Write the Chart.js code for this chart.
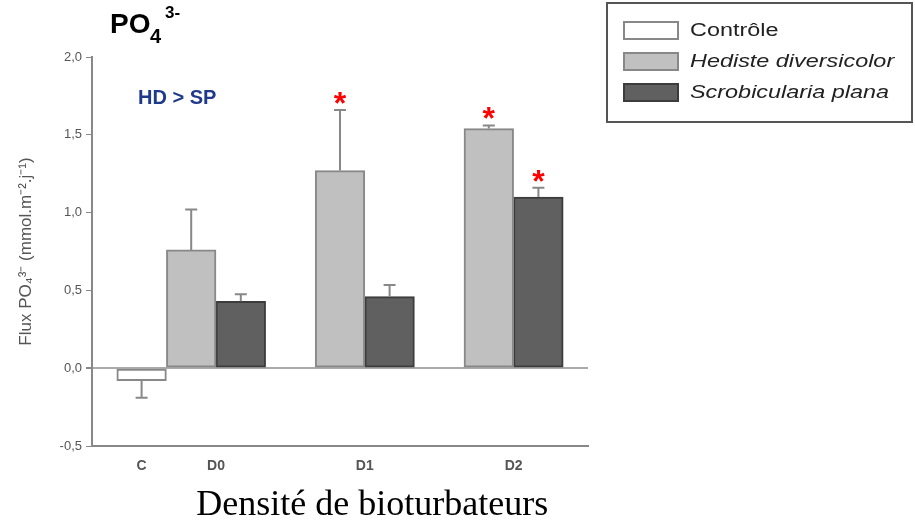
<!DOCTYPE html>
<html>
<head>
<meta charset="utf-8">
<script src="https://cdn.jsdelivr.net/npm/chart.js@4.4.0/dist/chart.umd.min.js"></script>
<style>
  html, body { margin: 0; padding: 0; background: #fff; }
  #wrap { width: 915px; height: 523px; }
</style>
</head>
<body>
<div id="wrap"><canvas id="myChart" width="915" height="523"></canvas></div>
<script>
// density groups along the x axis
const groups = ['C', 'D0', 'D1', 'D2'];

// Contrôle, only in group C
const controleVal = [-0.08];
const controleErr = [0.11];

// Hediste diversicolor, groups D0 / D1 / D2
const hdVal = [0.76, 1.27, 1.54];
const hdErr = [0.26, 0.39, 0.02];
const hdSig = [false, true, true];

// Scrobicularia plana, groups D0 / D1 / D2
const spVal = [0.43, 0.46, 1.10];
const spErr = [0.045, 0.075, 0.06];
const spSig = [false, false, true];

const yMin = -0.5, yMax = 2.0, yStep = 0.5;

// bar slots on the x axis (one unit = one bar width)
const slotStart = { C: 1, D0: 2, D1: 5, D2: 8 };
const speciesGroups = groups.slice(1);
const labelPos = g => g === 'C' ? slotStart.C : slotStart[g] + 0.5;
const toPoints = (vals, shift) => vals.map((v, i) => ({ x: slotStart[speciesGroups[i]] + shift, y: v }));

const SANS = '"Liberation Sans", Arial, sans-serif';

// error bars + significance stars
const errorBars = {
  id: 'errorBars',
  afterDatasetsDraw(chart) {
    const ctx = chart.ctx;
    const y = chart.scales.y;
    ctx.save();
    chart.data.datasets.forEach((ds, di) => {
      const meta = chart.getDatasetMeta(di);
      meta.data.forEach((bar, i) => {
        const v = ds.data[i].y;
        const end = v >= 0 ? v + ds.errors[i] : v - ds.errors[i];
        const yEnd = y.getPixelForValue(end);
        ctx.strokeStyle = '#888';
        ctx.lineWidth = 2;
        ctx.beginPath();
        ctx.moveTo(bar.x, bar.y);
        ctx.lineTo(bar.x, yEnd);
        ctx.moveTo(bar.x - 6, yEnd);
        ctx.lineTo(bar.x + 6, yEnd);
        ctx.stroke();
        if (ds.sig && ds.sig[i]) {
          ctx.font = 'bold 32px ' + SANS;
          ctx.fillStyle = '#ff0000';
          ctx.textAlign = 'center';
          ctx.textBaseline = 'alphabetic';
          const m = ctx.measureText('*');
          const cy = yEnd - 12;
          ctx.fillText('*', bar.x, cy + (m.actualBoundingBoxAscent - m.actualBoundingBoxDescent) / 2);
        }
      });
    });
    ctx.restore();
  }
};

// heading, comparison note, x title and boxed legend
const decorations = {
  id: 'decorations',
  afterDraw(chart) {
    const ctx = chart.ctx;
    const area = chart.chartArea;
    ctx.save();
    ctx.textBaseline = 'alphabetic';
    ctx.textAlign = 'left';
    ctx.fillStyle = '#000';
    ctx.font = 'bold 28px ' + SANS;
    ctx.fillText('PO', 110, 33);
    ctx.font = 'bold 20px ' + SANS;
    ctx.fillText('4', 150, 43);
    ctx.font = 'bold 17px ' + SANS;
    ctx.fillText('3-', 165, 18);

    ctx.fillStyle = '#1f3a8a';
    ctx.font = 'bold 20px ' + SANS;
    ctx.textBaseline = 'middle';
    ctx.fillText('HD > SP', area.left + 46, 98);

    ctx.fillStyle = '#000';
    ctx.textAlign = 'center';
    ctx.textBaseline = 'alphabetic';
    ctx.font = '36px "Liberation Serif", "Times New Roman", serif';
    ctx.fillText('Densité de bioturbateurs', chart.scales.x.getPixelForValue(5.65), 515);

    ctx.strokeStyle = '#555';
    ctx.lineWidth = 2;
    ctx.strokeRect(607, 3, 305, 119);
    chart.data.datasets.forEach((ds, i) => {
      const cy = 30 + i * 31;
      ctx.fillStyle = ds.backgroundColor;
      ctx.fillRect(624, cy - 8, 54, 17);
      ctx.strokeStyle = ds.borderColor;
      ctx.strokeRect(624, cy - 8, 54, 17);
      ctx.save();
      ctx.translate(690, cy + 1);
      ctx.scale(1.3, 1);
      ctx.font = (ds.italic ? 'italic ' : '') + '18px ' + SANS;
      ctx.fillStyle = '#222';
      ctx.textAlign = 'left';
      ctx.textBaseline = 'middle';
      ctx.fillText(ds.label, 0, 0);
      ctx.restore();
    });
    ctx.restore();
  }
};

new Chart(document.getElementById('myChart'), {
  type: 'bar',
  data: {
    datasets: [
      {
        label: 'Contrôle',
        data: [{ x: slotStart.C, y: controleVal[0] }],
        errors: controleErr,
        backgroundColor: '#ffffff', borderColor: '#888888'
      },
      {
        label: 'Hediste diversicolor', italic: true,
        data: toPoints(hdVal, 0),
        errors: hdErr, sig: hdSig,
        backgroundColor: '#c0c0c0', borderColor: '#888888'
      },
      {
        label: 'Scrobicularia plana', italic: true,
        data: toPoints(spVal, 1),
        errors: spErr, sig: spSig,
        backgroundColor: '#606060', borderColor: '#3c3c3c'
      }
    ]
  },
  options: {
    responsive: false,
    animation: false,
    layout: { padding: { left: 0, top: 57, right: 327, bottom: 0 } },
    datasets: {
      bar: { grouped: false, barPercentage: 1, categoryPercentage: 1, borderWidth: 2, borderSkipped: false }
    },
    plugins: { legend: { display: false }, tooltip: { enabled: false } },
    scales: {
      x: {
        type: 'linear', offset: false, min: 0, max: 10,
        grid: { display: false, drawTicks: false },
        border: { display: true, color: '#888', width: 2 },
        afterBuildTicks: axis => { axis.ticks = groups.map(g => ({ value: labelPos(g) })); },
        afterFit: axis => { axis.height = 77; },
        ticks: {
          autoSkip: false, maxRotation: 0, padding: 12,
          color: '#555', font: { family: SANS, size: 14, weight: 'bold' },
          callback: (v, i) => groups[i]
        }
      },
      y: {
        min: yMin, max: yMax,
        afterFit: axis => { axis.width = 92; },
        grid: {
          color: c => (c.tick && c.tick.value === 0) ? '#aaa' : 'rgba(0,0,0,0)',
          lineWidth: c => (c.tick && c.tick.value === 0) ? 2 : 1,
          tickColor: '#888', tickLength: 6
        },
        border: { display: true, color: '#888', width: 2 },
        ticks: {
          stepSize: yStep, padding: 4, color: '#555',
          font: { family: SANS, size: 13 },
          callback: v => v.toFixed(1).replace('.', ',')
        },
        title: {
          display: true, text: 'Flux PO₄³⁻ (mmol.m⁻².j⁻¹)',
          color: '#555', font: { family: SANS, size: 17 },
          padding: { top: 16, bottom: 0 }
        }
      }
    }
  },
  plugins: [errorBars, decorations]
});
</script>
</body>
</html>
